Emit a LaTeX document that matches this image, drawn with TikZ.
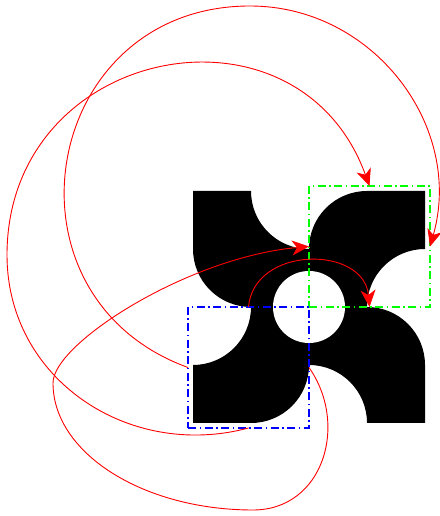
\documentclass[tikz,border=0pt]{standalone}
\usetikzlibrary{arrows.meta,positioning}

\begin{document}
\begin{tikzpicture}[
  x=1pt, y=1pt,
  box/.style={line width=2.4pt, minimum size=121pt, inner sep=0pt, outer sep=0pt,
    dash pattern=on 8pt off 3.5pt on 1.5pt off 3.5pt},
  link/.style={draw=red, line width=0.9pt, -{Stealth[length=17pt,width=15pt,inset=5pt]}}
]
\useasboundingbox (0,0) rectangle (439,516);
\coordinate (c) at (309,209);

% pinwheel
\foreach \a in {0,-90,-180,-270} {
  \fill[black, shift={(c)}, rotate=\a]
    (-116,116) -- (-58,116) arc[start angle=180, end angle=270, radius=58]
    -- (0,0) -- (-58,0) arc[start angle=270, end angle=180, radius=58] -- cycle;
}
\fill[white] (c) circle[radius=36];

\node[box, draw=green, anchor=south west] (dst) at (c) {};
\node[box, draw=blue, anchor=north east] (src) at (c) {};

\draw[link] (src.west) .. controls +(160:209) and +(180:209) .. (250,510)
  .. controls +(0:124) and +(74:124) .. (dst.east);
\draw[link] (src.south) .. controls +(195:124) and +(-90:124) .. (7,261)
  .. controls +(90:210) and +(110:210) .. (dst.north);
\draw[link] (src.east) .. controls +(-55:70) and +(0:70) .. (253,6)
  .. controls +(180:110) and +(-90:70) .. (53,133)
  .. controls +(90:40) and +(185:120) .. (dst.west);
\draw[link] (src.north) .. controls +(85:62) and +(95:62) .. (dst.south);
\end{tikzpicture}
\end{document}
